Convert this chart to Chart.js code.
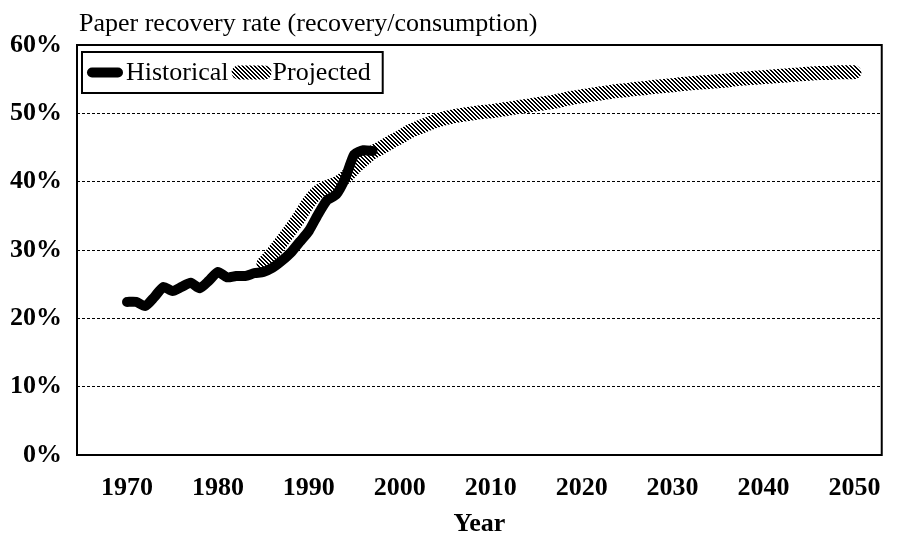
<!DOCTYPE html>
<html>
<head>
<meta charset="utf-8">
<script src="https://cdn.jsdelivr.net/npm/chart.js@4"></script>
<style>
  html, body { margin: 0; padding: 0; background: #fff; }
  #wrap { width: 899px; height: 543px; }
</style>
</head>
<body>
<div id="wrap"><canvas id="c" width="899" height="543"></canvas></div>
<script>
// ---- Data ----
const chartTitle = "Paper recovery rate (recovery/consumption)";
const xAxisTitle = "Year";
const xTickYears = [1970, 1980, 1990, 2000, 2010, 2020, 2030, 2040, 2050];
const yTickValues = [0, 10, 20, 30, 40, 50, 60];

const historicalYears = [1970,1971,1972,1973,1974,1975,1976,1977,1978,1979,1980,1981,1982,1983,1984,1985,1986,1987,1988,1989,1990,1991,1992,1993,1994,1995,1996,1997];
const historicalValues = [22.4,22.4,21.8,23.1,24.6,24.0,24.6,25.2,24.4,25.5,26.8,26.0,26.2,26.2,26.6,26.8,27.4,28.4,29.6,31.2,32.8,35.2,37.3,38.1,40.5,44.0,44.6,44.5];

const projectedYears = [1985,1986,1987,1988,1989,1990,1991,1992,1993,1994,1995,1996,1997,1998,1999,
  2000,2001,2002,2003,2004,2005,2006,2007,2008,2009,
  2010,2011,2012,2013,2014,2015,2016,2017,2018,2019,
  2020,2021,2022,2023,2024,2025,2026,2027,2028,2029,
  2030,2031,2032,2033,2034,2035,2036,2037,2038,2039,
  2040,2041,2042,2043,2044,2045,2046,2047,2048,2049,2050];
const projectedValues = [28.0,29.5,31.2,33.0,34.9,37.0,38.5,39.2,39.7,40.6,42.0,43.2,44.3,45.0,45.8,
  46.5,47.3,47.9,48.4,48.9,49.3,49.6,49.8,50.0,50.2,
  50.3,50.5,50.7,50.9,51.1,51.3,51.5,51.7,52.0,52.3,
  52.5,52.7,52.9,53.1,53.3,53.4,53.6,53.7,53.9,54.0,
  54.1,54.3,54.4,54.5,54.6,54.7,54.8,55.0,55.1,55.2,
  55.3,55.4,55.5,55.6,55.7,55.8,55.9,55.9,56.0,56.0,56.0];

// ---- Hatch pattern for projected series ----
function makeHatch() {
  const p = document.createElement('canvas');
  p.width = 4; p.height = 4;
  const g = p.getContext('2d');
  g.fillStyle = '#ffffff';
  g.fillRect(0, 0, 4, 4);
  g.fillStyle = '#000000';
  for (let x = 0; x < 4; x++) for (let y = 0; y < 4; y++) {
    const d = (x - y + 4) % 4;
    if (d === 0 || d === 1) g.fillRect(x, y, 1, 1);
  }
  return g.createPattern(p, 'repeat');
}
const hatch = makeHatch();

const serif = "'Liberation Serif', 'Times New Roman', serif";

// Frame + title + legend plugin
const decor = {
  id: 'decor',
  afterDraw(chart) {
    const ctx = chart.ctx;
    const a = chart.chartArea;
    ctx.save();
    // frame
    ctx.strokeStyle = '#000';
    ctx.lineWidth = 2;
    ctx.strokeRect(a.left, a.top, a.right - a.left, a.bottom - a.top);
    // title
    ctx.fillStyle = '#000';
    ctx.font = "26px " + serif;
    ctx.textBaseline = 'alphabetic';
    ctx.textAlign = 'left';
    ctx.fillText(chartTitle, a.left + 2, 31);
    // legend box
    const lx = a.left + 5, ly = a.top + 7, lh = 41;
    ctx.font = "26px " + serif;
    const ds = chart.data.datasets;
    const t0 = ds[0].label, t1 = ds[1].label;
    const w0 = ctx.measureText(t0).width, w1 = ctx.measureText(t1).width;
    const sw = 40;
    const lw = 6 + sw + 2 + w0 + 2 + sw + 2 + w1 + 8;
    ctx.fillStyle = '#fff';
    ctx.fillRect(lx, ly, lw, lh);
    ctx.lineWidth = 2;
    ctx.strokeStyle = '#000';
    ctx.strokeRect(lx, ly, lw, lh);
    const cy = ly + lh / 2;
    let x = lx + 4;
    // historical swatch
    ctx.lineCap = 'round';
    ctx.lineWidth = ds[0].borderWidth;
    ctx.strokeStyle = '#000';
    ctx.beginPath(); ctx.moveTo(x + 6, cy); ctx.lineTo(x + sw - 8, cy); ctx.stroke();
    x += sw;
    ctx.fillStyle = '#000';
    ctx.textBaseline = 'middle';
    ctx.fillText(t0, x, cy + 1);
    x += w0 + 2;
    ctx.lineWidth = ds[1].borderWidth;
    ctx.strokeStyle = hatch;
    ctx.beginPath(); ctx.moveTo(x + 8, cy); ctx.lineTo(x + sw - 6, cy); ctx.stroke();
    x += sw + 2;
    ctx.fillStyle = '#000';
    ctx.fillText(t1, x, cy + 1);
    ctx.restore();
  }
};

new Chart(document.getElementById('c'), {
  type: 'line',
  data: {
    datasets: [
      {
        label: 'Historical',
        data: historicalYears.map((yr, i) => ({ x: yr, y: historicalValues[i] })),
        borderColor: '#000',
        borderWidth: 10,
        borderCapStyle: 'round',
        borderJoinStyle: 'round',
        pointRadius: 0,
        fill: false,
        tension: 0.2,
        order: 0
      },
      {
        label: 'Projected',
        data: projectedYears.map((yr, i) => ({ x: yr, y: projectedValues[i] })),
        borderColor: hatch,
        borderWidth: 14,
        borderCapStyle: 'round',
        borderJoinStyle: 'round',
        pointRadius: 0,
        fill: false,
        tension: 0.2,
        order: 1
      }
    ]
  },
  options: {
    responsive: false,
    animation: false,
    layout: { padding: { top: 45, right: 16, left: 0, bottom: 0 } },
    plugins: {
      legend: { display: false },
      title: { display: false },
      tooltip: { enabled: false }
    },
    scales: {
      x: {
        type: 'linear',
        min: 1964.5,
        max: 2053,
        afterBuildTicks: (axis) => { axis.ticks = xTickYears.map(v => ({ value: v })); },
        afterFit: (s) => { s.height = 88; },
        grid: { display: false, drawTicks: false },
        border: { display: false },
        ticks: {
          color: '#000',
          padding: 18,
          maxRotation: 0,
          autoSkip: false,
          font: { family: serif, size: 26, weight: 'bold' },
          callback: (v) => String(v)
        },
        title: {
          display: true,
          text: xAxisTitle,
          color: '#000',
          padding: { top: 4, bottom: 3 },
          font: { family: serif, size: 26, weight: 'bold' }
        }
      },
      y: {
        min: 0,
        max: 60,
        afterBuildTicks: (axis) => { axis.ticks = yTickValues.map(v => ({ value: v })); },
        afterFit: (s) => { s.width = 77; },
        grid: {
          color: (c) => (c.tick && (c.tick.value === 0 || c.tick.value === 60)) ? 'rgba(0,0,0,0)' : '#000',
          lineWidth: 1,
          drawTicks: false
        },
        border: { display: false, dash: [3, 2] },
        ticks: {
          color: '#000',
          padding: 15,
          font: { family: serif, size: 26, weight: 'bold' },
          callback: (v) => v + '%'
        }
      }
    }
  },
  plugins: [decor]
});
</script>
</body>
</html>
